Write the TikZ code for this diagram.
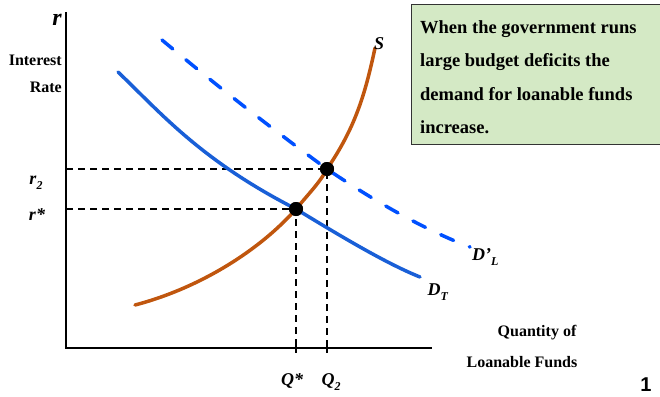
\documentclass[tikz,border=0pt]{standalone}
\usepackage{fontspec}
\setmainfont{Liberation Serif}
\newfontfamily\pgnum{Liberation Sans}
\definecolor{dblue}{RGB}{25,95,215}
\definecolor{dlblue}{RGB}{0,80,255}
\definecolor{sbrown}{RGB}{192,86,14}
\definecolor{boxgreen}{RGB}{212,233,197}
\tikzset{
  axisline/.style={line width=1.2pt,black},
  guide/.style={line width=1.4pt,black,dash pattern=on 7pt off 5pt},
  curveS/.style={line width=3.5pt,sbrown,line cap=round},
  curveD/.style={line width=3.5pt,dblue,line cap=round},
  curveDL/.style={line width=3.5pt,dlblue,line cap=round,dash pattern=on 14pt off 17pt},
  eqdot/.style={circle,fill=black,minimum size=14pt,inner sep=0pt},
  lab/.style={font=\bfseries\itshape\fontsize{18}{18}\selectfont,inner sep=0pt},
  small/.style={font=\bfseries\fontsize{16}{16}\selectfont,inner sep=0pt},
}
\newcommand{\subsc}[1]{\rlap{\raisebox{-5pt}{\fontsize{12}{12}\selectfont #1}}}
\begin{document}
\begin{tikzpicture}[x=1pt,y=-1pt]
\useasboundingbox (0,0) rectangle (660,396);
\begin{scope}
\clip (0,0) rectangle (660,396);
% text box
\node[draw=black!80,line width=1pt,fill=boxgreen,minimum width=252pt,minimum height=140pt,anchor=north west,inner sep=0pt] (box) at (411,4) {};
\node[anchor=north west,align=left,font=\bfseries\fontsize{18.5}{33.5}\selectfont,inner sep=0pt] (boxtext) at (420,20)
  {When the government runs\\large budget deficits the\\demand for loanable funds\\increase.};
\end{scope}
\node[anchor=south,font=\pgnum\bfseries\fontsize{20}{20}\selectfont,inner sep=0pt] (pg) at (646,392) {1};
% axes
\coordinate (O) at (66,348);
\coordinate (ytop) at (66,12);
\coordinate (xend) at (432,348);
\draw[axisline] (ytop) -- (O) -- (xend);
% equilibrium points
\node[eqdot] (E1) at (296,209) {};
\node[eqdot] (E2) at (327,169) {};
\coordinate (r1) at (66,209);
\coordinate (r2) at (66,169);
\coordinate (q1) at (296,348);
\coordinate (q2) at (327,348);
\draw[guide] (r1) -- (E1.center) -- (q1);
\draw[guide] (r2) -- (E2.center) -- (q2);
\draw[line width=1.2pt] (296,343) -- (296,353) (327,344) -- (327,353);
% curves
\draw[curveD] (118,72) .. controls (160,112) and (200,160) .. (E1.center) .. controls (350,242) and (390,265) .. (420,277);
\draw[curveDL] (162,40) .. controls (210,80) and (260,120) .. (E2.center) .. controls (380,205) and (430,232) .. (470,247);
\draw[curveS] (135,305) .. controls (200,288) and (260,250) .. (E1.center) .. controls (312,190) and (320,182) .. (E2.center) .. controls (355,128) and (365,95) .. (375,48);
\node[eqdot] at (E1) {};
\node[eqdot] at (E2) {};
% labels
\node[lab] (S) at (379,44) {S};
\node[lab] (DT) at (434,292) {D\subsc{T}};
\node[lab,anchor=west] (DL) at (472,257) {D’\subsc{L}};
\node[lab,anchor=east,font=\bfseries\itshape\fontsize{24}{24}\selectfont] (rlab) at (62,20) {r};
\node[small,anchor=east] (int) at (62,60) {Interest};
\node[small,anchor=east] (rate) at (62,87) {Rate};
\node[lab] (r2lab) at (33,183) {r\subsc{2}};
\node[lab] (r1lab) at (37,215) {r*};
\node[lab] (qlab) at (292,381) {Q*};
\node[lab] (q2lab) at (328,382) {Q\subsc{2}};
\node[small] (qty) at (537,333) {Quantity of};
\node[small] (lf) at (522,362) {Loanable Funds};
\end{tikzpicture}
\end{document}
